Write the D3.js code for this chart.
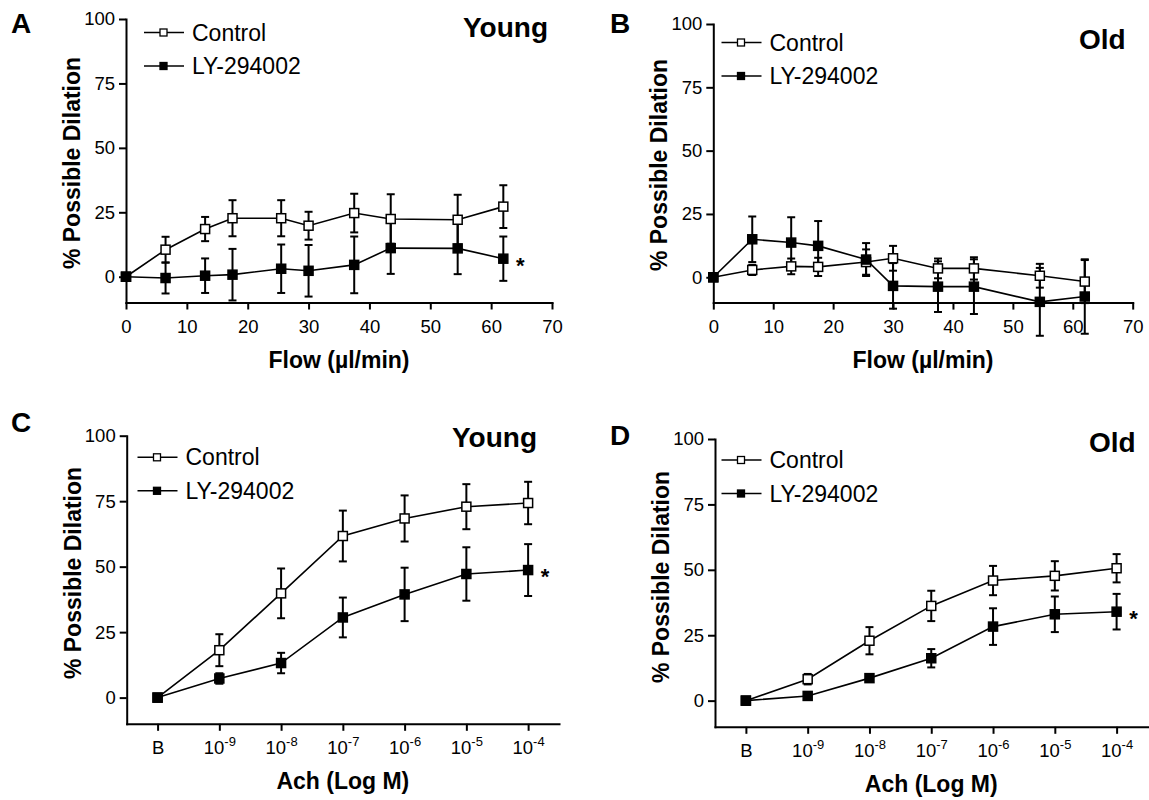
<!DOCTYPE html>
<html lang="en">
<head>
<meta charset="utf-8">
<title>Possible dilation</title>
<script src="https://cdn.jsdelivr.net/npm/d3@7"></script>
<style>
  body { margin: 0; background: #fff; }
  svg { display: block; }
</style>
</head>
<body>
<script>
// ---- data ----
var flow = [0, 6.5, 13, 17.5, 25.5, 30, 37.5, 43.5, 54.5, 62];

var ctrlYoungFlow    = [0, 10.5, 18.5, 22.7, 22.7, 19.8, 24.7, 22.4, 22.1, 27.2];
var ctrlYoungFlowErr = [0, 5, 4.7, 7, 7, 5.4, 7.5, 9.6, 9.7, 8.3];
var lyYoungFlow      = [0, -0.5, 0.4, 0.8, 3.1, 2.3, 4.6, 11.1, 11, 7];
var lyYoungFlowErr   = [0, 6, 6.7, 10, 9.4, 10, 11, 10, 10, 8.6];

var ctrlOldFlow      = [0, 2.9, 4.3, 4.1, 6, 7.5, 3.5, 3.5, 0.6, -1.7];
var ctrlOldFlowErr   = [0, 2, 3.1, 3.6, 5, 4.9, 3.9, 4.4, 4.7, 8.5];
var lyOldFlow        = [0, 15, 13.7, 12.4, 7, -3.4, -3.7, -3.7, -9.7, -7.6];
var lyOldFlowErr     = [0, 9, 10, 9.8, 6.5, 9, 10, 10.8, 13.4, 14.7];

var achCats = ["B", "-9", "-8", "-7", "-6", "-5", "-4"];

var ctrlYoungAch    = [0, 18.1, 39.8, 61.7, 68.4, 72.9, 74.3];
var ctrlYoungAchErr = [0, 6.1, 9.5, 9.7, 8.8, 8.6, 8.1];
var lyYoungAch      = [0, 7.3, 13.2, 30.6, 39.4, 47.2, 48.7];
var lyYoungAchErr   = [0, 2, 3.9, 7.6, 10.2, 10.2, 9.9];

var ctrlOldAch      = [0, 8.2, 22.9, 36.2, 45.9, 47.7, 50.6];
var ctrlOldAchErr   = [0, 2, 5.2, 5.8, 5.6, 5.6, 5.4];
var lyOldAch        = [0, 1.8, 8.6, 16.2, 28.3, 33, 34];
var lyOldAchErr     = [0, 1, 1, 3.5, 7, 6.8, 6.8];

var yTicks = [0, 25, 50, 75, 100];
var flowTicks = [0, 10, 20, 30, 40, 50, 60, 70];
var seriesNames = ["Control", "LY-294002"];

var FONT = "'Liberation Sans', Arial, Helvetica, sans-serif";

var svg = d3.select("body").append("svg")
  .attr("width", 1149)
  .attr("height", 800)
  .style("font-family", FONT);

function drawPanel(p) {
  var g = svg.append("g");

  var y = d3.scaleLinear().domain([-10, 100]).range([p.yBot, p.yTop]);
  var x;
  if (p.cats) {
    x = d3.scalePoint().domain(p.cats).range([p.x0, p.x1]).padding(0.5);
  } else {
    x = d3.scaleLinear().domain([0, 70]).range([p.x0, p.x1]);
  }

  // axes
  var yAxis = d3.axisLeft(y).tickValues(yTicks).tickSize(7).tickSizeOuter(0).tickPadding(4);
  var gy = g.append("g").attr("transform", "translate(" + p.x0 + ",0)").call(yAxis);

  var xAxis = d3.axisBottom(x).tickSize(7).tickSizeOuter(0).tickPadding(10.5);
  if (!p.cats) xAxis.tickValues(flowTicks);
  var gx = g.append("g").attr("transform", "translate(0," + p.yBot + ")").call(xAxis);

  [gx, gy].forEach(function (a) {
    a.select(".domain").attr("stroke", "#000").attr("stroke-width", 2).attr("stroke-linecap", "square");
    a.selectAll(".tick line").attr("stroke", "#000").attr("stroke-width", 2);
    a.selectAll(".tick text").attr("fill", "#000").style("font-size", "18.5px").style("font-family", FONT);
  });

  if (p.cats) {
    gx.selectAll(".tick text").each(function (d) {
      var t = d3.select(this);
      if (d === "B") return;
      t.text(null);
      t.append("tspan").text("10");
      t.append("tspan").text(d).style("font-size", "13px").attr("dy", "-8");
    });
  }

  // axis titles
  g.append("text")
    .attr("x", (p.x0 + p.x1) / 2)
    .attr("y", p.yBot + 65)
    .attr("text-anchor", "middle")
    .style("font-size", "23px")
    .style("font-weight", "bold")
    .text(p.xTitle);

  g.append("text")
    .attr("transform", "rotate(-90)")
    .attr("x", -p.yTitleMid)
    .attr("y", p.x0 - 46)
    .attr("text-anchor", "middle")
    .style("font-size", "23px")
    .style("font-weight", "bold")
    .text("% Possible Dilation");

  // series
  var xs = p.cats ? p.cats : flow;
  var series = [
    { vals: p.ctrl, err: p.ctrlErr, fill: "#fff" },
    { vals: p.ly, err: p.lyErr, fill: "#000" }
  ];

  var line = d3.line()
    .x(function (d) { return x(d.x); })
    .y(function (d) { return y(d.v); });

  series.forEach(function (s) {
    var pts = xs.map(function (xv, i) { return { x: xv, v: s.vals[i], e: s.err[i] }; });
    s.pts = pts;

    g.append("path")
      .datum(pts)
      .attr("d", line)
      .attr("fill", "none")
      .attr("stroke", "#000")
      .attr("stroke-width", 1.6);

    var eb = g.append("g").selectAll("g")
      .data(pts.filter(function (d) { return d.e > 0; }))
      .enter().append("g")
      .attr("stroke", "#000")
      .attr("stroke-width", 2);
    eb.append("line")
      .attr("x1", function (d) { return x(d.x); })
      .attr("x2", function (d) { return x(d.x); })
      .attr("y1", function (d) { return y(d.v - d.e); })
      .attr("y2", function (d) { return y(d.v + d.e); });
    [1, -1].forEach(function (sg) {
      eb.append("line")
        .attr("x1", function (d) { return x(d.x) - 4; })
        .attr("x2", function (d) { return x(d.x) + 4; })
        .attr("y1", function (d) { return y(d.v + sg * d.e); })
        .attr("y2", function (d) { return y(d.v + sg * d.e); });
    });
  });

  series.forEach(function (s) {
    g.append("g").selectAll("rect")
      .data(s.pts)
      .enter().append("rect")
      .attr("x", function (d) { return x(d.x) - 4.5; })
      .attr("y", function (d) { return y(d.v) - 4.5; })
      .attr("width", 9)
      .attr("height", 9)
      .attr("fill", s.fill)
      .attr("stroke", "#000")
      .attr("stroke-width", 1.5);
  });

  // significance star next to last LY point
  if (p.star) {
    var last = series[1].pts[series[1].pts.length - 1];
    g.append("text")
      .attr("x", x(last.x) + 17)
      .attr("y", y(last.v) + 14)
      .attr("text-anchor", "middle")
      .style("font-size", "22px")
      .style("font-weight", "bold")
      .text("*");
  }

  // legend
  var lg = g.append("g").attr("transform", "translate(" + p.legX + "," + p.legY + ")");
  seriesNames.forEach(function (name, i) {
    var row = lg.append("g").attr("transform", "translate(0," + i * 33.5 + ")");
    row.append("line").attr("x1", 0).attr("x2", 40).attr("y1", 0).attr("y2", 0)
      .attr("stroke", "#000").attr("stroke-width", 1.6);
    row.append("rect").attr("x", 16).attr("y", -3.5).attr("width", 7).attr("height", 7)
      .attr("fill", series[i].fill).attr("stroke", "#000").attr("stroke-width", 1.3);
    row.append("text").attr("x", 48).attr("y", 0).attr("dy", "0.35em")
      .style("font-size", "23px").text(name);
  });

  // group title and panel letter
  g.append("text")
    .attr("x", p.titleX).attr("y", p.titleY)
    .style("font-size", "28px").style("font-weight", "bold")
    .text(p.title);

  g.append("text")
    .attr("x", p.letterX).attr("y", p.letterY)
    .style("font-size", "28px").style("font-weight", "bold")
    .text(p.letter);
}

drawPanel({
  letter: "A", letterX: 11, letterY: 33,
  title: "Young", titleX: 463, titleY: 37,
  x0: 126, x1: 552, yTop: 19, yBot: 302.5, yTitleMid: 163,
  xTitle: "Flow (\u00b5l/min)",
  legX: 144, legY: 32.5, star: true,
  ctrl: ctrlYoungFlow, ctrlErr: ctrlYoungFlowErr, ly: lyYoungFlow, lyErr: lyYoungFlowErr
});

drawPanel({
  letter: "B", letterX: 610, letterY: 33,
  title: "Old", titleX: 1079, titleY: 49,
  x0: 713.3, x1: 1132.7, yTop: 24, yBot: 302.6, yTitleMid: 165,
  xTitle: "Flow (\u00b5l/min)",
  legX: 721.5, legY: 42.5, star: false,
  ctrl: ctrlOldFlow, ctrlErr: ctrlOldFlowErr, ly: lyOldFlow, lyErr: lyOldFlowErr
});

drawPanel({
  letter: "C", letterX: 11, letterY: 432,
  title: "Young", titleX: 452, titleY: 447,
  x0: 126.7, x1: 559, yTop: 435.7, yBot: 723.8, yTitleMid: 573,
  cats: achCats,
  xTitle: "Ach (Log M)",
  legX: 137.5, legY: 457.3, star: true,
  ctrl: ctrlYoungAch, ctrlErr: ctrlYoungAchErr, ly: lyYoungAch, lyErr: lyYoungAchErr
});

drawPanel({
  letter: "D", letterX: 610, letterY: 445,
  title: "Old", titleX: 1089, titleY: 452,
  x0: 715, x1: 1147.5, yTop: 439, yBot: 726.8, yTitleMid: 577,
  cats: achCats,
  xTitle: "Ach (Log M)",
  legX: 721.5, legY: 460, star: true,
  ctrl: ctrlOldAch, ctrlErr: ctrlOldAchErr, ly: lyOldAch, lyErr: lyOldAchErr
});
</script>
</body>
</html>
